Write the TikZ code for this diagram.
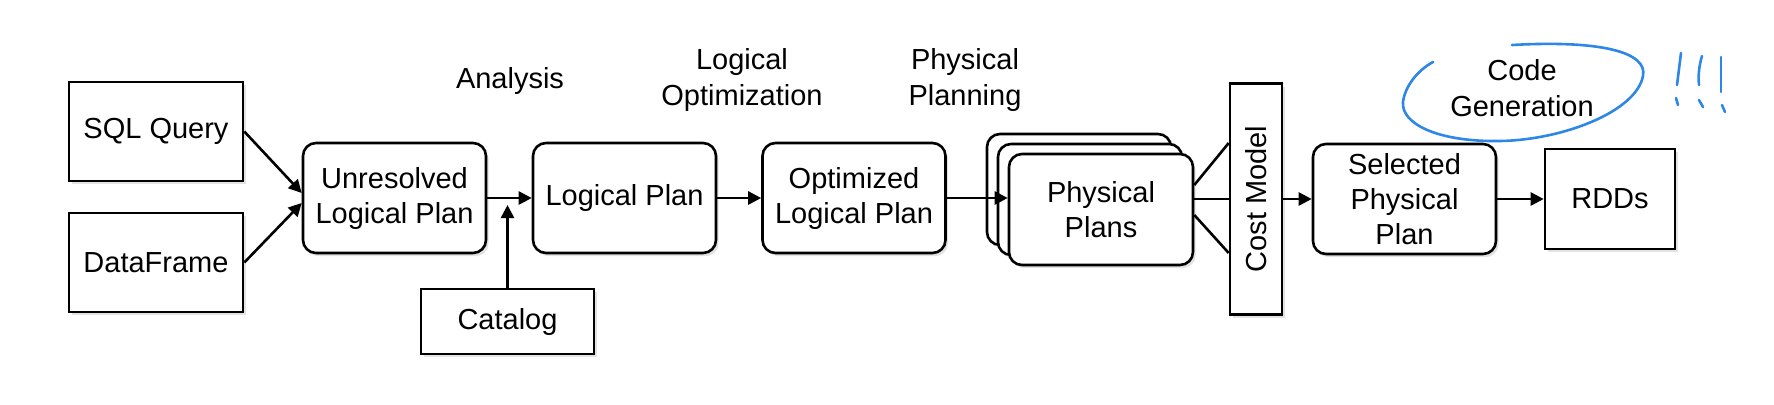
\documentclass[tikz,border=0pt]{standalone}
\usepackage{fontspec}
\setmainfont{Liberation Sans}
\usetikzlibrary{arrows.meta,shadows}
\definecolor{inkblue}{RGB}{45, 135, 230}

\tikzset{
  shade box/.style={drop shadow={opacity=0.22, shadow xshift=1.3pt, shadow yshift=-1.6pt}},
  srcbox/.style={draw, fill=white, line width=1.3pt, align=center, shade box,
    font=\fontsize{14.5}{17.5}\selectfont},
  planbox/.style={srcbox, rounded corners=6.5pt, minimum width=91.5pt, minimum height=55pt},
  phase/.style={align=center, font=\fontsize{14.5}{18}\selectfont},
  arr/.style={-{Triangle[length=6.5pt,width=6.5pt]}, line width=1.3pt},
  ink/.style={inkblue, line width=1.3pt, line cap=round}
}

\begin{document}
\begin{tikzpicture}[x=0.5pt, y=-0.5pt]
        \useasboundingbox (0,0) rectangle (1774,404);
        % inputs
        \node[srcbox, minimum width=87pt, minimum height=49.5pt] (sql) at (156,131.5) {SQL Query};
        \node[srcbox, minimum width=87pt, minimum height=49.5pt] (df) at (156,262.5) {DataFrame};
        % logical side
        \node[planbox] (unres) at (394.5,198) {Unresolved\\Logical Plan};
        \node[planbox] (lp) at (624.5,198) {Logical Plan};
        \node[planbox] (opt) at (854,198) {Optimized\\Logical Plan};
        \node[srcbox, minimum width=86.5pt, minimum height=32.5pt] (catalog) at (507.5,321.5) {Catalog};
        % physical side, stacked plans
        \node[planbox, minimum width=92pt, minimum height=55.5pt] (phys1) at (1079,189.5) {};
        \node[planbox, minimum width=92pt, minimum height=55.5pt] (phys2) at (1090,199.5) {};
        \node[planbox, minimum width=92pt, minimum height=55.5pt] (phys) at (1101,209.5) {Physical\\Plans};
        \node[srcbox, minimum width=26pt, minimum height=115.5pt] (cost) at (1256,199) {\rotatebox{90}{Cost Model}};
        \node[planbox] (sel) at (1404.5,199) {Selected\\Physical\\Plan};
        \node[srcbox, minimum width=65pt, minimum height=50pt] (rdd) at (1610,199) {RDDs};
        % phase labels
        \node[phase] (analysis) at (510,81) {Analysis};
        \node[phase] (logopt) at (742,80) {Logical\\Optimization};
        \node[phase] (physplan) at (965,80) {Physical\\Planning};
        \node[phase] (codegen) at (1522,88) {Code\\Generation};
        % connectors
        \draw[arr] (sql.east) -- ([yshift=2.5pt]unres.west);
        \draw[arr] (df.east) -- ([yshift=-2.5pt]unres.west);
        \draw[arr] (unres.east) -- (lp.west);
        \coordinate (join) at (unres.east -| catalog.north);
        \draw[arr] (catalog.north) -- ([yshift=-3.5pt]join);
        \draw[arr] (lp.east) -- (opt.west);
        \draw[arr] (opt.east) -- (opt.east -| phys.west);
        \draw[line width=1.3pt] ([yshift=12.25pt]phys.east) -- ([yshift=28pt]cost.west);
        \draw[line width=1.3pt] (phys.east |- cost.west) -- (cost.west);
        \draw[line width=1.3pt] ([yshift=-2.75pt]phys.east) -- ([yshift=-27pt]cost.west);
        \draw[arr] (cost.east |- sel.west) -- (sel.west);
        \draw[arr] (sel.east) -- (rdd.west);
        % hand-drawn marks
        \draw[ink] (1512,45) .. controls (1600,40) and (1648,52) .. (1643,76)
          .. controls (1636,112) and (1562,140) .. (1500,141)
          .. controls (1438,142) and (1401,124) .. (1403,102)
          .. controls (1405,86) and (1418,70) .. (1433,62);
        \draw[ink] (1681,53) -- (1677,85);
        \draw[ink] (1676,98) -- (1678,105);
        \draw[ink] (1702,56) .. controls (1699,66) and (1698,76) .. (1699,85);
        \draw[ink] (1699,100) -- (1703,107);
        \draw[ink] (1721,57) -- (1721,92);
        \draw[ink] (1722,105) -- (1725,112);
\end{tikzpicture}
\end{document}
